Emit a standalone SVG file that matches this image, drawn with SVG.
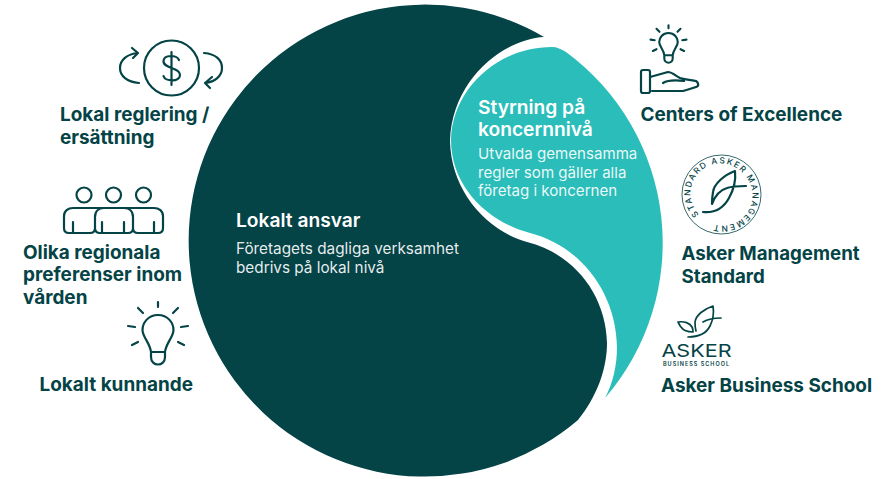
<svg xmlns="http://www.w3.org/2000/svg" width="888" height="479" viewBox="0 0 888 479">
<style>
.l{font-family:Inter,"Liberation Sans",sans-serif;font-weight:700;font-size:18.950px;fill:#044346}
.h{font-family:Inter,"Liberation Sans",sans-serif;font-weight:600;font-size:19.200px;fill:#fff}
.b{font-family:Inter,"Liberation Sans",sans-serif;font-weight:400;font-size:15.100px;fill:#fff;fill-opacity:.92}
.i{fill:none;stroke:#044346;stroke-width:2.2;stroke-linecap:round;stroke-linejoin:round}
.c{font-family:Inter,"Liberation Sans",sans-serif;font-weight:500;font-size:8.400px;fill:#044346;letter-spacing:1.500px}
</style>
<defs>
<path id="arc" d="M699.100,214.400 A30,30 0 1 1 743.900,174.600 A30,30 0 1 1 699.100,214.400"/>
<g id="bulb">
<path d="M0,-20 C-10,-20 -15.500,-12 -15.500,-5 C-15.500,2 -8,8 -7,17 L-7,22 C-7,32 7,32 7,22 L7,17 C8,8 15.500,2 15.500,-5 C15.500,-12 10,-20 0,-20 Z M-7,17 H7"/>
<path d="M0,-33 V-28 M-20,-27 L-15,-22 M20,-27 L15,-22 M-30,-9 L-23,-8 M30,-9 L23,-8 M-26,10 L-20,7 M26,10 L20,7"/>
</g>
</defs>
<g id="dark-shape"><path fill="#044346" d="M544,37 C505,39 452,78 450,141 C451,190 485,230 527,242 C575,254 606,296 607,343 C607,370 596,398 578,420 A236,236 0 1 1 544,37 Z"/></g>
<g id="teal-shape"><path fill="#2bbdb9" d="M605,398 C613,383 617,365 617,347 C616,290 578,245 530,233 C488,222 451,187 451,140 C452,90 497,47 552,47 C557,47 561,49 566,52 A237,237 0 0 1 605,398 Z"/></g>
<g id="node-center">
<text class="h" x="236" y="226.500">Lokalt ansvar</text>
<text class="b" style="font-size:15.300px" x="236" y="253.500">Företagets dagliga verksamhet</text>
<text class="b" style="font-size:15.300px" x="236" y="272.500">bedrivs på lokal nivå</text>
</g>
<g id="node-group">
<text class="h" x="478" y="113.500">Styrning på</text>
<text class="h" x="478" y="136">koncernnivå</text>
<text class="b" x="478" y="159">Utvalda gemensamma</text>
<text class="b" x="478" y="177.500">regler som gäller alla</text>
<text class="b" x="478" y="196">företag i koncernen</text>
</g>
<g id="node-reglering">
<g class="i"><circle cx="171.500" cy="68" r="27.500"/><path d="M171.500,52 V85 M179,60 C177,55 164,54 163.500,61 C163,69 180,67 180,75 C180,82 165,82 163.500,76"/><path d="M139,83 C127,82 120,76 120,68 C120,60 127,54 138,53 M132,48 L138,53 L133,58 M204,53 C216,54 222,60 222,68 C222,76 215,82 205,83 M212,77 L205,83 L210,88"/></g>
<text class="l" x="60" y="121">Lokal reglering /</text>
<text class="l" x="60" y="143.500">ersättning</text>
</g>
<g id="node-regionala">
<g class="i"><circle cx="84" cy="195" r="7.500"/><circle cx="113.500" cy="195" r="7.500"/><circle cx="143.500" cy="195" r="7.500"/><path d="M64,216 V228 Q64,233 69,233 H90 Q95,233 95,228 V217 C95,211 99,208 104,208 H124 C129,208 133,211 133,217 V228 Q133,233 138,233 H158 Q163,233 163,228 V216 C163,211 159,208 154,208 H73 C68,208 64,211 64,216 Z M95,228 Q95,233 100,233 H128 Q133,233 133,228 M73,222 V233 M102,222 V233 M124,222 V233 M154,222 V233"/></g>
<text class="l" x="23" y="259">Olika regionala</text>
<text class="l" x="23" y="281">preferenser inom</text>
<text class="l" x="23" y="304">vården</text>
</g>
<g id="node-kunnande">
<use href="#bulb" class="i" transform="translate(158,335)"/>
<text class="l" x="39.500" y="391">Lokalt kunnande</text>
</g>
<g id="node-coe">
<use href="#bulb" class="i" style="stroke-width:3.500" transform="translate(668.500,45) scale(.6)"/>
<g class="i"><rect x="641" y="70" width="9" height="23" rx="2"/><path d="M650,77 L668,72 C672,72 676,76 680,78 C686,80 692,80 696,81 C699,83 699,86 696,87 C690,89 686,90 683,91 H652 M663,83 C668,80 676,80 684,81"/></g>
<text class="l" x="640.500" y="121">Centers of Excellence</text>
</g>
<g id="node-ams">
<circle cx="721.500" cy="194.500" r="39.500" fill="none" stroke="#044346" stroke-width=".8"/>
<text class="c"><textPath href="#arc">STANDARD ASKER MANAGEMENT</textPath></text>
<path class="i" d="M703,212 C713,213 723,209 729,198 C734,189 736,180 735,171 C724,175 714,184 713,192 C712,198 712,201 712,204 C715,196 720,190 727,188 C733,186 740,186 746,186"/>
<text class="l" style="font-size:18.700px" x="681.500" y="260">Asker Management</text>
<text class="l" style="font-size:18.700px" x="681.500" y="283">Standard</text>
</g>
<g id="node-abs">
<path class="i" style="stroke-width:1.700" d="M688,337 C697,337 706,334 710,326 C713,320 714,312 713,306 C704,309 696,315 695,322 C695,326 695,328 696,331 M703,322 C708,319 715,318 721,318 M678,322 C684,321 690,323 692,327 C693,329 693,331 693,332 C688,332 683,330 681,327 C680,326 679,324 678,322 Z"/>
<text x="661.500" y="357" font-family="Inter,'Liberation Sans',sans-serif" font-size="17" font-weight="400" fill="#044346" textLength="70" lengthAdjust="spacingAndGlyphs">ASKER</text>
<text x="663" y="365.500" font-family="Inter,'Liberation Sans',sans-serif" font-size="5.500" font-weight="600" fill="#044346" textLength="66" lengthAdjust="spacing">BUSINESS SCHOOL</text>
<text class="l" x="661" y="392">Asker Business School</text>
</g>
<g id="connectors"/>
</svg>
